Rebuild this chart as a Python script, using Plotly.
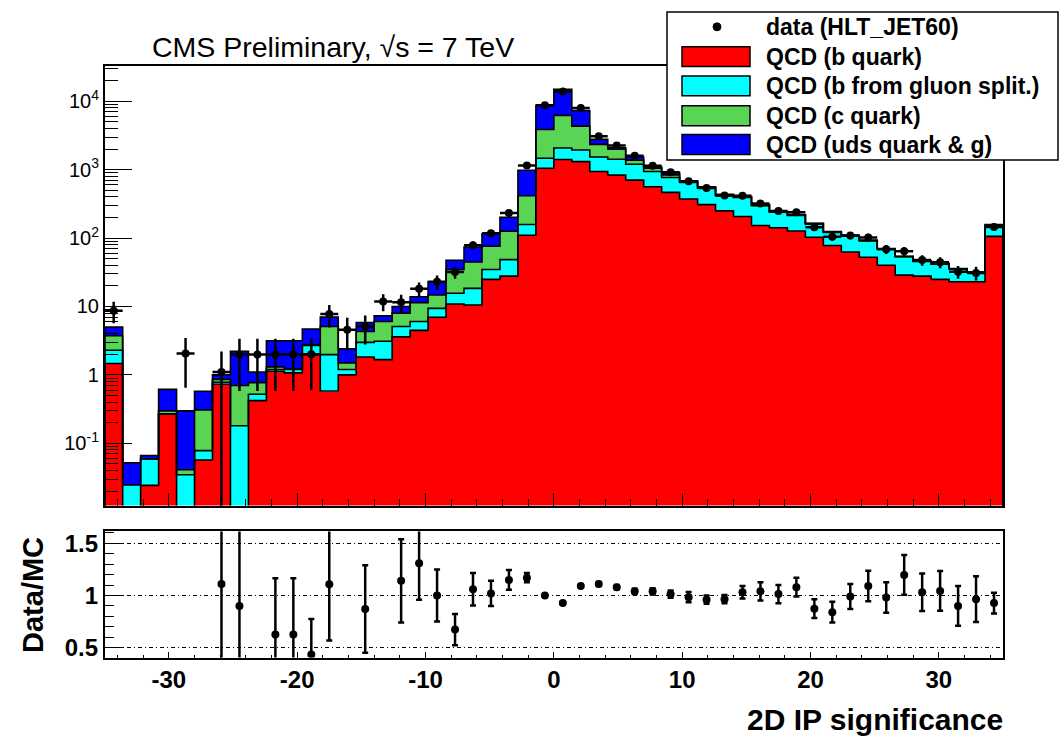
import numpy as np
import plotly.graph_objects as go

# ---------------- data ----------------
bin_low = -35.0
bin_width = 1.4
n_bins = 50

b_quark = [1.47, 0, 0.0242, 0.267, 0, 0.057, 0.73, 0, 0.42, 1.13,
           1.07, 1.98, 0.58, 1.0, 1.83, 1.67, 3.6, 4.47, 6.98, 10.9,
           10.5, 24.9, 27.8, 110, 1052, 1414, 1315, 942, 834, 704,
           564, 466, 373, 309, 250, 207, 153, 142, 127, 103,
           78, 62.7, 52.5, 40.2, 28.8, 27.8, 24.9, 23, 23, 106]
b_gsplit = [0.82, 0.0248, 0.035, 0.003, 0.0347, 0.021, 0.05, 0.18, 0.10, 0.07,
            0.13, 0.72, 1.40, 0.2, 1.16, 1.43, 1.5, 1.58, 2.42, 4.7,
            7.9, 9.9, 20.7, 48, 421, 664, 627, 596, 588, 499,
            378, 304, 278, 230, 167, 185, 146, 97, 87, 57,
            43, 44, 38.5, 28.5, 24.5, 17.8, 16.8, 12.3, 8.5, 44]
c_quark = [1.45, 0, 0, 0.028, 0.0063, 0.23, 0.08, 0.52, 0.25, 0.11,
           0.03, 0.07, 3.12, 0.3, 1.33, 2.95, 2.9, 5.35, 5.3, 19.2,
           26.4, 41.1, 77.5, 259, 2407, 4152, 2398, 812, 588, 174,
           112, 71, 19, 13, 10, 6, 5, 4, 4, 3,
           2, 2, 1.5, 1, 0.5, 0.4, 0.4, 0.3, 0.3, 4]
uds_g = [1.26, 0.027, 0.007, 0.317, 0.257, 0.268, 0.14, 1.51, 0.33, 1.85,
         1.93, 1.93, 1.9, 0.9, 1.52, 1.25, 2.0, 2.5, 8.3, 12.6,
         29.3, 40.1, 76, 567, 4870, 8820, 2990, 430, 90, 161,
         47, 69, 19, 12, 9, 6, 5, 4, 3, 2,
         2, 1.3, 1.5, 0.5, 0.5, 0.4, 0.4, 0.3, 0.2, 4]

data_vals = [8.7, 0, 0, 0, 2.05, 0, 1.1, 1.98, 1.98, 1.98,
             1.98, 2.0, 7.75, 4.57, 5.08, 11.8, 11.5, 18.2, 23, 31.9,
             78.5, 118, 232, 1152, 8750, 13950, 7990, 3086, 2270, 1600,
             1145, 922, 678, 541, 421, 416, 321, 250, 239, 144,
             105, 109, 102, 68.8, 64, 47.8, 44.4, 32.3, 31, 146]
data_err = [3.0, 0, 0, 0, 1.4, 0, 1.1, 1.4, 1.4, 1.4,
            1.4, 1.4, 2.8, 2.3, 2.3, 3.3, 3.4, 4.3, 5.5, 6.5,
            11, 13, 19, 40, 94, 120, 90, 55, 45, 40,
            33, 32, 34, 23, 17, 24, 27, 21, 20, 15,
            12.5, 13, 13.7, 10.2, 10.3, 8.4, 8.1, 6.8, 7, 15.8]

ratio_vals = [None, None, None, None, None, None, 1.11, 0.90, None, 0.625,
              0.625, 0.435, 1.108, None, 0.87, None, 1.14, 1.31, 1.0, 0.673,
              1.06, 1.02, 1.149, 1.171, 1.0, 0.927, 1.09, 1.11, 1.08, 1.04,
              1.04, 1.013, 0.984, 0.96, 0.965, 1.03, 1.04, 1.013, 1.08, 0.873,
              0.84, 0.99, 1.09, 0.98, 1.197, 1.03, 1.044, 0.90, 0.965, 0.927]
ratio_err = [None, None, None, None, None, None, 1.2, 1.0, None, 0.54,
             0.54, 0.34, 0.54, None, 0.42, None, 0.40, 0.35, 0.25, 0.15,
             0.155, 0.12, 0.095, 0.045, 0.01, 0.01, 0.012, 0.02, 0.02, 0.025,
             0.03, 0.035, 0.05, 0.04, 0.04, 0.06, 0.087, 0.087, 0.09, 0.09,
             0.10, 0.12, 0.146, 0.146, 0.19, 0.18, 0.19, 0.19, 0.22, 0.10]

series_names = ["QCD (b quark)", "QCD (b from gluon split.)", "QCD (c quark)", "QCD (uds quark & g)"]
data_name = "data (HLT_JET60)"

x_tickvals = [-30, -20, -10, 0, 10, 20, 30]
x_ticktext = ["-30", "-20", "-10", "0", "10", "20", "30"]
y_tickvals = [0.1, 1, 10, 100, 1000, 10000]
y_ticktext = ["10<sup>-1</sup>", "1", "10", "10<sup>2</sup>", "10<sup>3</sup>", "10<sup>4</sup>"]
r_tickvals = [0.5, 1, 1.5]
r_ticktext = ["0.5", "1", "1.5"]

# ---------------- layout helpers ----------------
W, H = 1060, 742
FONT = "Liberation Sans, Arial, Helvetica, sans-serif"
colors = ["#FF0000", "#00FFFF", "#59D454", "#0000FF"]
Y_FLOOR = 1e-4  # below the visible log range: outlines drop to the frame bottom


def fx(p):
    return p / W


def fy(p):
    return 1 - p / H


centers = bin_low + bin_width * (np.arange(n_bins) + 0.5)
edges = bin_low + bin_width * np.arange(n_bins + 1)
x_dom = [fx(104.7), fx(1003)]
main_dom = [fy(507), fy(64)]
ratio_dom = [fy(660), fy(533)]

fig = go.Figure()

components = [b_quark, b_gsplit, c_quark, uds_g]

# stacked MC histograms (fill only)
for vals, name, col in zip(components, series_names, colors):
    fig.add_trace(go.Bar(
        x=centers, y=[v if v > 0 else None for v in vals], width=bin_width,
        name=name, marker=dict(color=col, line=dict(width=0)),
        xaxis="x", yaxis="y", showlegend=False, hoverinfo="skip"))

# step outlines of each cumulative stack level (ROOT histogram style)
cum = np.zeros(n_bins)
for vals, name in zip(components, series_names):
    cum = cum + np.array(vals, dtype=float)
    ys = [v if v > 0 else Y_FLOOR for v in cum]
    fig.add_trace(go.Scatter(
        x=np.concatenate([[edges[0]], edges]), y=[Y_FLOOR] + ys + [ys[-1]],
        mode="lines", line=dict(color="black", width=1.6, shape="hv"),
        xaxis="x", yaxis="y", showlegend=False, hoverinfo="skip", name=name + " outline"))
    fig.add_trace(go.Scatter(
        x=[edges[-1], edges[-1]], y=[ys[-1], Y_FLOOR], mode="lines",
        line=dict(color="black", width=1.6), xaxis="x", yaxis="y",
        showlegend=False, hoverinfo="skip"))

# data points
dmask = [i for i, v in enumerate(data_vals) if v > 0]
fig.add_trace(go.Scatter(
    x=centers[dmask], y=[data_vals[i] for i in dmask], mode="markers", name=data_name,
    marker=dict(color="black", size=8),
    error_y=dict(type="data", array=[data_err[i] for i in dmask], color="black", thickness=2.5, width=0),
    error_x=dict(type="constant", value=bin_width / 2, color="black", thickness=2.5, width=0),
    xaxis="x", yaxis="y", showlegend=False))

# ratio
rmask = [i for i, v in enumerate(ratio_vals) if v is not None]
fig.add_trace(go.Scatter(
    x=centers[rmask], y=[ratio_vals[i] for i in rmask], mode="markers", name="Data/MC",
    marker=dict(color="black", size=8),
    error_y=dict(type="data", array=[ratio_err[i] for i in rmask], color="black", thickness=2.5, width=3),
    xaxis="x2", yaxis="y2", showlegend=False))

minor_log = [m * 10.0 ** k for k in range(-2, 5) for m in range(2, 10)]

axis_common = dict(showline=True, linecolor="black", linewidth=1.5, mirror=True,
                   ticks="inside", tickcolor="black", zeroline=False, showgrid=False)

fig.update_layout(
    width=W, height=H, margin=dict(l=0, r=0, t=0, b=0),
    paper_bgcolor="white", plot_bgcolor="white",
    barmode="stack", bargap=0, showlegend=False,
    font=dict(family=FONT, color="black"),
    xaxis=dict(domain=x_dom, range=[-35, 35], anchor="y", tickvals=x_tickvals, ticktext=x_ticktext,
               showticklabels=False, ticklen=13, tickwidth=1.2,
               minor=dict(ticks="inside", ticklen=7, tickwidth=1, dtick=2, tick0=0, tickcolor="black"),
               **axis_common),
    yaxis=dict(domain=main_dom, type="log", range=[-1.911, 4.523], anchor="x",
               tickvals=y_tickvals, ticktext=y_ticktext, ticklen=28, tickwidth=1.2,
               tickfont=dict(size=20),
               minor=dict(ticks="inside", ticklen=14, tickwidth=1, tickvals=minor_log, tickcolor="black"),
               **axis_common),
    xaxis2=dict(domain=x_dom, range=[-35, 35], anchor="y2", tickvals=x_tickvals, ticktext=x_ticktext,
                ticklen=6, tickwidth=1.2, tickfont=dict(size=24, weight="bold"),
                minor=dict(ticks="inside", ticklen=3, tickwidth=1, dtick=2, tick0=0, tickcolor="black"),
                **axis_common),
    yaxis2=dict(domain=ratio_dom, range=[0.405, 1.614], anchor="x2",
                tickvals=r_tickvals, ticktext=r_ticktext, ticklen=19, tickwidth=1.2,
                tickfont=dict(size=24, weight="bold"),
                minor=dict(ticks="inside", ticklen=10, tickwidth=1, dtick=0.1, tick0=0, tickcolor="black"),
                showline=True, linecolor="black", linewidth=1.5, mirror=True,
                ticks="inside", tickcolor="black", zeroline=False,
                showgrid=True, gridcolor="black", gridwidth=1, griddash="4px,3px,1px,3px"),
)

annotations = [
    dict(text="CMS Preliminary, \u221as = 7 TeV",
         x=fx(150), y=fy(45), xref="paper", yref="paper", xanchor="left", yanchor="middle",
         showarrow=False, font=dict(size=28.5)),
    dict(text="<b>Data/MC</b>", x=fx(33), y=fy(597), xref="paper", yref="paper", textangle=-90,
         xanchor="center", yanchor="middle", showarrow=False, font=dict(size=29)),
    dict(text="<b>2D IP significance</b>", x=fx(1005), y=fy(722), xref="paper", yref="paper",
         xanchor="right", yanchor="middle", showarrow=False, font=dict(size=30)),
]

# hand-built legend (wide ROOT-style swatches)
shapes = [dict(type="rect", xref="paper", yref="paper", x0=fx(667), x1=fx(1058), y0=fy(159), y1=fy(10),
               fillcolor="white", line=dict(color="black", width=1.5), layer="above"),
          dict(type="circle", xref="paper", yref="paper", x0=fx(713), x1=fx(721), y0=fy(29), y1=fy(21),
               fillcolor="black", line=dict(color="black", width=1), layer="above")]
annotations.append(dict(text="<b>" + data_name + "</b>", x=fx(764), y=fy(25), xref="paper", yref="paper",
                        xanchor="left", yanchor="middle", showarrow=False, font=dict(size=23)))
row_centers = [55, 84.5, 114.5, 143.5]
for name, col, yc in zip(series_names, colors, row_centers):
    shapes.append(dict(type="rect", xref="paper", yref="paper", x0=fx(682), x1=fx(750),
                       y0=fy(yc + 10), y1=fy(yc - 10), fillcolor=col,
                       line=dict(color="black", width=1.5), layer="above"))
    annotations.append(dict(text="<b>" + name + "</b>", x=fx(764), y=fy(yc), xref="paper", yref="paper",
                            xanchor="left", yanchor="middle", showarrow=False, font=dict(size=23)))

fig.update_layout(annotations=annotations, shapes=shapes)

fig.write_html("out.html")
